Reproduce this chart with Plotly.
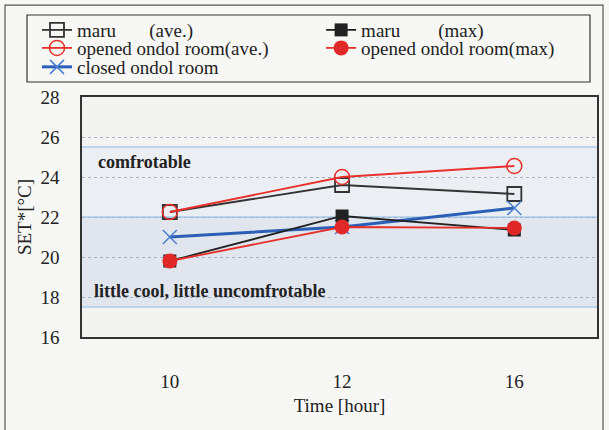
import plotly.graph_objects as go

hours = ["10", "12", "16"]
maru_ave = [22.25, 23.6, 23.15]
opened_ave = [22.25, 24.0, 24.55]
maru_max = [19.8, 22.05, 21.35]
opened_max = [19.8, 21.5, 21.45]
closed = [21.0, 21.5, 22.45]

y_ticks = [16, 18, 20, 22, 24, 26, 28]
comfort_band = [22, 25.5]
cool_band = [17.5, 22]

SERIF = "Liberation Serif"
NB = "\u00a0"

fig = go.Figure()

fig.add_trace(go.Scatter(x=hours, y=maru_ave, mode="lines+markers",
    name="maru" + NB * 7 + "(ave.)", legend="legend",
    line=dict(color="#333333", width=1.8),
    marker=dict(symbol="square-open", size=14, color="#333333", line=dict(width=1.8))))
fig.add_trace(go.Scatter(x=hours, y=opened_ave, mode="lines+markers",
    name="opened ondol room(ave.)", legend="legend3",
    line=dict(color="#e8302a", width=1.8),
    marker=dict(symbol="circle-open", size=15, color="#e8302a", line=dict(width=1.5))))
fig.add_trace(go.Scatter(x=hours, y=closed, mode="lines+markers",
    name="closed ondol room", legend="legend5",
    line=dict(color="#2a5fb5", width=3),
    marker=dict(symbol="x-thin-open", size=14, color="#4a7fd0", line=dict(width=1.5, color="#4a7fd0"))))
fig.add_trace(go.Scatter(x=hours, y=maru_max, mode="lines+markers",
    name="maru" + NB * 8 + "(max)", legend="legend2",
    line=dict(color="#222222", width=1.8),
    marker=dict(symbol="square", size=13, color="#222222")))
fig.add_trace(go.Scatter(x=hours, y=opened_max, mode="lines+markers",
    name="opened ondol room(max)", legend="legend4",
    line=dict(color="#e8302a", width=1.8),
    marker=dict(symbol="circle", size=15, color="#e02828")))

# bands
fig.add_shape(type="rect", xref="paper", yref="y", x0=0, x1=1,
              y0=comfort_band[0], y1=comfort_band[1],
              fillcolor="#ebeef3", line=dict(width=0), layer="below")
fig.add_shape(type="rect", xref="paper", yref="y", x0=0, x1=1,
              y0=cool_band[0], y1=cool_band[1],
              fillcolor="#e1e5ed", line=dict(width=0), layer="below")
for yv in [comfort_band[1], comfort_band[0], cool_band[0]]:
    fig.add_shape(type="line", xref="paper", yref="y", x0=0, x1=1, y0=yv, y1=yv,
                  line=dict(color="#8cbbe3", width=1.2), layer="below")

fig.add_annotation(text="<b>comfrotable</b>", xref="paper", yref="y", x=0.027, y=24.75,
                   xanchor="left", showarrow=False,
                   font=dict(family=SERIF, size=18, color="#222222"))
fig.add_annotation(text="<b>little cool, little uncomfrotable</b>", xref="paper", yref="y",
                   x=0.02, y=18.3, xanchor="left", showarrow=False,
                   font=dict(family=SERIF, size=18, color="#222222"))

# outer frame and legend frame
fig.add_shape(type="rect", xref="paper", yref="paper", x0=-0.1495, x1=1.0117,
              y0=-0.45, y1=1.383, line=dict(color="#555555", width=1.2))
fig.add_shape(type="rect", xref="paper", yref="paper", x0=-0.1068, x1=0.9864,
              y0=1.0625, y1=1.3417, line=dict(color="#333333", width=1.2),
              fillcolor="rgba(0,0,0,0)")

leg_common = dict(xanchor="left", yanchor="middle", bgcolor="rgba(0,0,0,0)",
                  borderwidth=0, itemwidth=30,
                  font=dict(family=SERIF, size=19, color="#222222"))
col1_x, col2_x = -0.0874, 0.4643
row_y = [1.279, 1.204, 1.125]

fig.update_layout(
    width=609, height=430,
    margin=dict(l=82, r=12, t=97, b=93, autoexpand=False),
    paper_bgcolor="#f7f7f5",
    plot_bgcolor="#f3f3f1",
    font=dict(family=SERIF, size=19, color="#222222"),
    showlegend=True,
    legend=dict(x=col1_x, y=row_y[0], **leg_common),
    legend2=dict(x=col2_x, y=row_y[0], **leg_common),
    legend3=dict(x=col1_x, y=row_y[1], **leg_common),
    legend4=dict(x=col2_x, y=row_y[1], **leg_common),
    legend5=dict(x=col1_x, y=row_y[2], **leg_common),
    xaxis=dict(type="category", range=[-0.51, 2.48], showgrid=False,
               showline=True, mirror=True, linecolor="#333333", linewidth=1.5,
               ticks="", ticklabelstandoff=26, automargin=False,
               title=dict(text="Time [hour]", standoff=8, font=dict(size=19))),
    yaxis=dict(range=[16, 28], tickvals=y_ticks, showgrid=True,
               gridcolor="#9fb3cc", griddash="dot", gridwidth=1,
               showline=True, mirror=True, linecolor="#333333", linewidth=1.5,
               ticks="outside", ticklen=17, tickcolor="rgba(0,0,0,0)",
               automargin=False, zeroline=False,
               title=dict(text="SET*[°C]", standoff=4, font=dict(size=19))),
)

fig.write_html("out.html", config={"displayModeBar": False},
               post_script="document.body.style.margin='0';document.body.style.background='#f7f7f5';")
